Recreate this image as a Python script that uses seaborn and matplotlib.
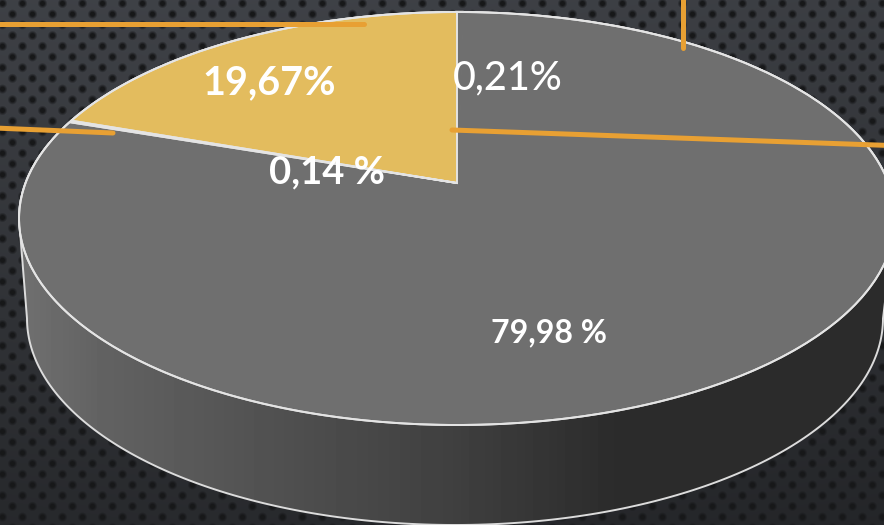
#!/usr/bin/env python3
"""Perspective pie chart on a dark perforated background."""

import numpy as np
import matplotlib
matplotlib.use('Agg')
import matplotlib.pyplot as plt
import seaborn as sns
from matplotlib.patches import PathPatch
from matplotlib.path import Path as MplPath
from matplotlib.transforms import Transform

# Data
slice_names = ['b', 'c', 'a', 'd']
slice_values = [19.67, 0.14, 79.98, 0.21]
slice_colors = ['#e3bc5e', '#f4efe0', '#6f6f6f', '#6f6f6f']

label_texts = ['19,67%', '0,21%', '0,14 %', '79,98 %']
label_x = [269, 508, 327, 549]
label_y = [83, 78, 172, 333]
label_sizes = [28.5, 28.5, 27.5, 23]
label_weights = ['bold', 'medium', 'bold', 'bold']

# Orange leader lines, in pixels
leader_x = [(-5, 364), (-5, 113), (683, 683), (452, 890)]
leader_y = [(24, 24), (128, 133), (-5, 48), (130, 145.5)]

W, H = 884, 525
CX, APEX_Y, RX, TOP_Y, BOTTOM_Y = 457, 183, 438, 12, 425
BASE_CX, BASE_RX, DEPTH = 455, 428, 100

sns.set_theme(style='dark')
plt.rcParams['font.family'] = ['Lato', 'DejaVu Sans']


class PerspectiveTransform(Transform):
    """Tilt the unit circle of the pie so it looks like a lying disc."""
    input_dims = 2
    output_dims = 2

    def __init__(self):
        super().__init__()
        up, down = APEX_Y - TOP_Y, BOTTOM_Y - APEX_Y
        self.k = (down - up) / (down + up)
        self.b = up * (1 + self.k)
        self.a = RX * np.sqrt(1 - self.k ** 2)

    def transform_non_affine(self, values):
        values = np.asarray(values, dtype=float)
        w = 1 + self.k * values[:, 1]
        return np.column_stack([CX + self.a * values[:, 0] / w,
                                APEX_Y - self.b * values[:, 1] / w])


def make_background():
    yy, xx = np.mgrid[0:H, 0:W]
    base = 66 - 24 * (yy / H) - 6 * np.abs(xx - 220) / W
    # staggered lattice of holes
    row = np.round((yy - 3) / 10.7)
    cx = 20 * np.round((xx - 2 - 10 * (row % 2)) / 20) + 2 + 10 * (row % 2)
    dist = np.hypot(xx - cx, yy - (row * 10.7 + 3))
    hole = np.clip((5.0 - dist) / 3.0, 0, 1)
    gray = base * (1 - hole) + 24 * hole
    rgb = np.dstack([gray * 0.96, gray * 1.0, gray * 1.08])
    return np.clip(rgb, 0, 255).astype(np.uint8)


fig = plt.figure(figsize=(W / 100, H / 100), dpi=100)
ax = fig.add_axes([0, 0, 1, 1])

ax.imshow(make_background(), extent=(0, W, H, 0), aspect='auto', zorder=0)

wedges, _ = ax.pie(slice_values, colors=sns.color_palette(slice_colors),
                   startangle=90, counterclock=True,
                   wedgeprops={'edgecolor': '#e4e4e4', 'linewidth': 1.4})
ax.set_aspect('auto')
top = PerspectiveTransform()
for w in wedges:
    w.set_transform(top + ax.transData)
    w.set_clip_on(False)
# the big slice sits under the others, the 0.21 sliver hides its radial edge
wedges[2].set_zorder(3)
wedges[3].set_zorder(3.1)
wedges[3].set_edgecolor(slice_colors[3])
wedges[3].set_linewidth(2.5)
wedges[0].set_zorder(3.2)
wedges[1].set_zorder(3.3)

# side wall: hull of the top ellipse and the smaller base ellipse
ry = (BOTTOM_Y - TOP_Y) / 2
cy = (BOTTOM_Y + TOP_Y) / 2
t = np.linspace(np.pi, 0, 200)
upper = np.column_stack([CX + RX * np.cos(t), cy - ry * np.sin(t)])
lower = np.column_stack([BASE_CX + BASE_RX * np.cos(t[::-1]),
                         cy + DEPTH + ry * np.sin(t[::-1])])
hull = MplPath(np.vstack([upper, lower, upper[:1]]), closed=True)
wall_patch = PathPatch(hull, transform=ax.transData, facecolor='none',
                       edgecolor='#dcdcdc', linewidth=1.4, zorder=2)
ax.add_patch(wall_patch)

ramp = np.interp(np.arange(W), [20, 100, 300, 450, 620, 884], [112, 98, 78, 64, 43, 43])
wall_img = ax.imshow(ramp[None, :], extent=(0, W, H, 0), aspect='auto',
                     cmap='gray', vmin=0, vmax=255, zorder=1)
wall_img.set_clip_path(wall_patch)

# rim of the top face
tt = np.linspace(0, 2 * np.pi, 400)
ax.plot(CX + RX * np.cos(tt), cy + ry * np.sin(tt), color='#e4e4e4', lw=1.4, zorder=3.4)

for xs, ys in zip(leader_x, leader_y):
    ax.plot(xs, ys, color='#e8a033', lw=3.6, solid_capstyle='round', zorder=4)

for txt, x, y, size, weight in zip(label_texts, label_x, label_y, label_sizes, label_weights):
    ax.text(x, y, txt, color='white', fontsize=size, fontweight=weight,
            ha='center', va='center', zorder=5)

ax.set_xlim(0, W)
ax.set_ylim(H, 0)
ax.axis('off')

fig.savefig('out.png', dpi=100)
